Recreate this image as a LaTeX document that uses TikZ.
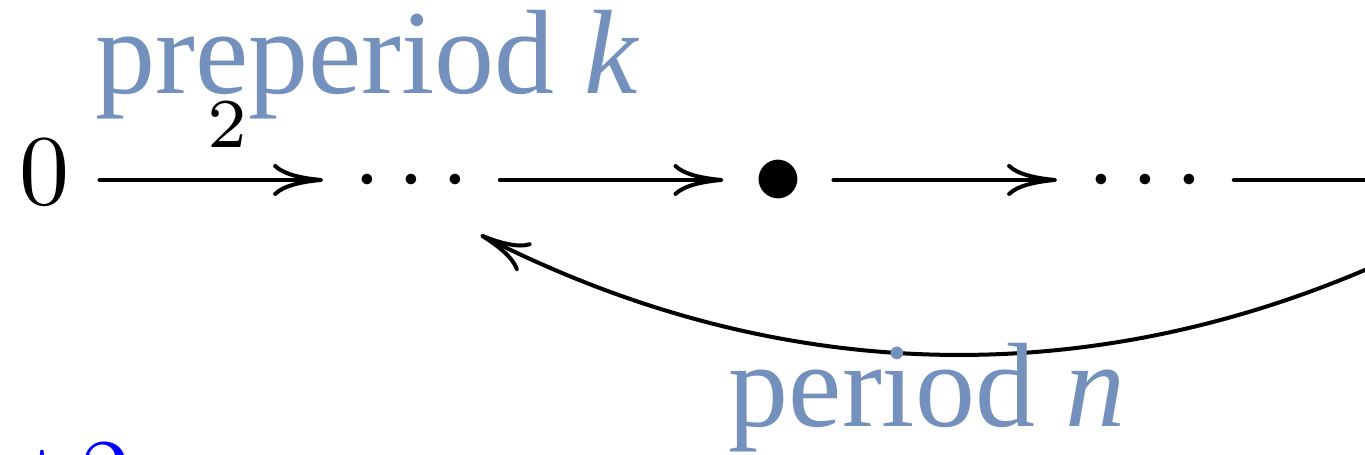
\documentclass[tikz,border=0pt]{standalone}
\usepackage{fontspec}
\usepackage{tikz}
\usetikzlibrary{arrows.meta,positioning}

\newfontfamily\labelfont{Liberation Serif}
\definecolor{perblue}{RGB}{116,145,190}
\newcommand{\dotrow}{\mathinner{\cdotp\cdotp\cdotp}}

\begin{document}
\begin{tikzpicture}[x=0.1pt, y=0.1pt, node distance=36.7pt,
    >={To[length=5pt,width=3.2pt]}, line cap=round,
    cell/.style={inner sep=2.8pt, text height=6.5pt, text depth=1.5pt},
    lbl/.style={inner sep=3pt},
    blue label/.style={text=perblue, font=\labelfont\fontsize{12}{14}\selectfont, inner sep=0pt}]
    \useasboundingbox (0,0) rectangle (1365,-455);
    \node[cell] (zero) at (44.5,-180) {$0$};
    \node[cell] (dotsA) [right of=zero] {$\dotrow$};
    \node[cell] (pt) [right of=dotsA] {$\bullet$};
    \node[cell] (dotsB) [right of=pt] {$\dotrow$};
    \coordinate[right of=dotsB] (far);
    \path[->]
    (zero) edge node[lbl, above, pos=.57] {$\scriptstyle 2$} (dotsA)
    (dotsA) edge (pt)
    (pt) edge (dotsB)
    (dotsB) edge (far)
    ;
    \draw[->] ([xshift=-7.25pt,yshift=-5.5pt]far) to[out=207,in=-27,looseness=0.94] ([xshift=6.9pt,yshift=-5.5pt]dotsA.center);
    \node[blue label, anchor=base] (pre) at (367.5,-94) {preperiod \textit{k}};
    \node[blue label, anchor=base] (per) at (927,-427) {period \textit{n}};
    \node[text=blue, anchor=base west, inner sep=0pt] (plus) at (1,-509) {$+2$};
\end{tikzpicture}
\end{document}
